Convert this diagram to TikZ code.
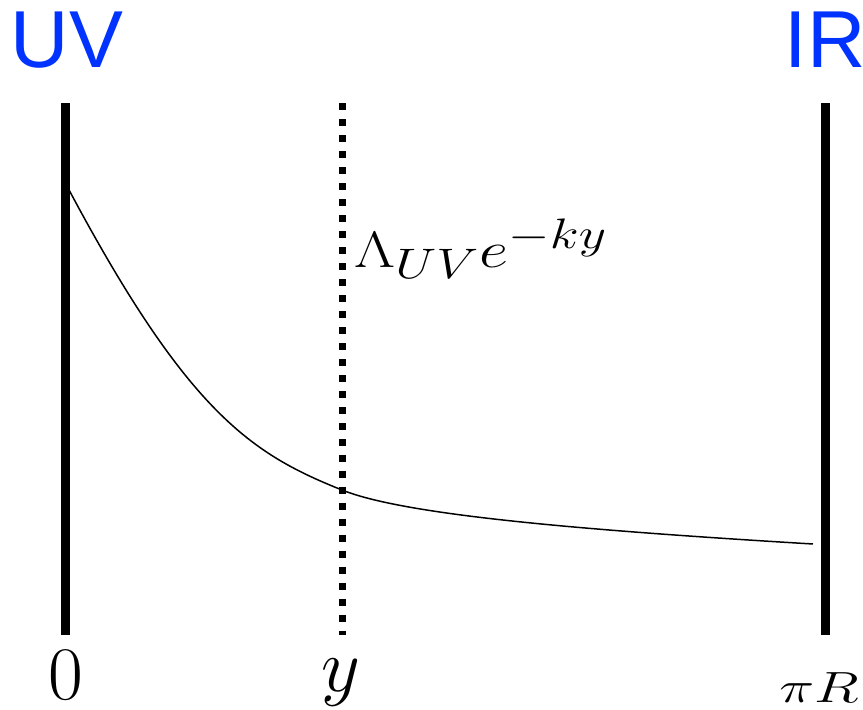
\documentclass[tikz,border=0pt]{standalone}
\usepackage{amsmath}
\usepackage{fontspec}
\newfontfamily\branefont{Liberation Sans}
\usepackage{tikz}
\definecolor{braneblue}{RGB}{0,51,255}

\begin{document}
\begin{tikzpicture}[x=0.02cm, y=-0.02cm]
        \tikzstyle{brane} = [draw, line width=4.6pt]
        \tikzstyle{slice} = [draw, line width=4pt, dash pattern=on 4pt off 5.1pt]
        \tikzstyle{warp} = [draw, line width=0.85pt]
        \tikzstyle{branename} = [anchor=base, inner sep=0pt, text=braneblue, font=\branefont\fontsize{46}{50}\selectfont]
        \tikzstyle{coordlabel} = [anchor=base, inner sep=0pt, font=\Huge, scale=1.73]
        \useasboundingbox (0,0) rectangle (863,710);

        % Coordinates
        \coordinate (uvtop) at (65.5,103);
        \coordinate (uvbot) at (65.5,635);
        \coordinate (ytop) at (342.5,103);
        \coordinate (ybot) at (342.5,635);
        \coordinate (irtop) at (825.5,103);
        \coordinate (irbot) at (825.5,635);
        \coordinate (warpstart) at (68,188);
        \coordinate (warpmid) at (342,490);
        \coordinate (warpend) at (813,544);

        % Nodes
        \node [branename] (uv) at (67,68) {UV};
        \node [branename] (ir) at (825,68) {IR};
        \node [coordlabel] (zero) at (66,699) {$0$};
        \node [coordlabel] (yy) at (341,691) {$y$};
        \node [anchor=base, inner sep=0pt, font=\Huge, xscale=1.35] (piR) at (819,702) {$\pi R$};
        \node [anchor=base west, inner sep=0pt, font=\Huge, xscale=1.46, yscale=1.17] (warpfactor) at (354,267) {$\Lambda_{UV}e^{-ky}$};

        % Paths
        \path [brane] (uvtop) -- (uvbot);
        \path [slice] (ytop) -- (ybot);
        \path [brane] (irtop) -- (irbot);
        \path [warp] (warpstart) .. controls (188,413.6) and (252,454) .. (warpmid)
                                 .. controls (402,514) and (563,529) .. (warpend);
    \end{tikzpicture}
\end{document}
